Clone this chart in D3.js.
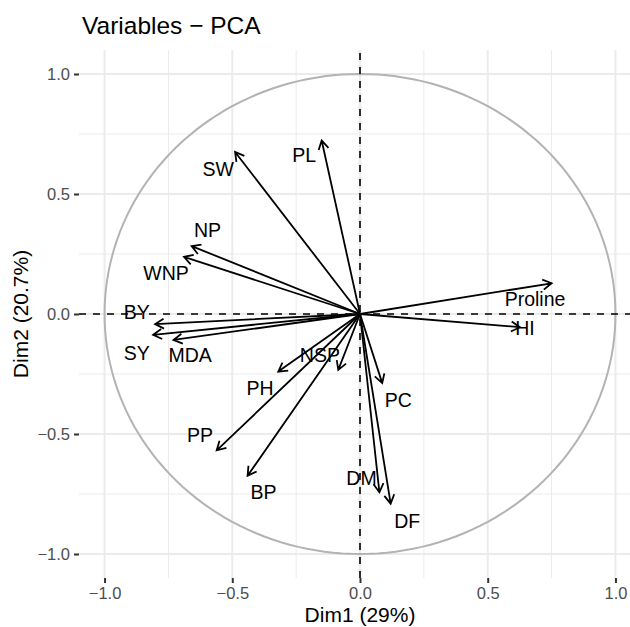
<!DOCTYPE html>
<html>
<head>
<meta charset="utf-8">
<script src="https://cdn.jsdelivr.net/npm/d3@7"></script>
<style>
  body { margin: 0; background: #fff; }
  svg { display: block; font-family: "Liberation Sans", Arial, sans-serif; }
</style>
</head>
<body>
<div id="chart"></div>
<script>
// variable coordinates on Dim1 / Dim2
const variables = ["PL", "SW", "NP", "WNP", "BY", "SY", "MDA", "NSP", "PH", "PP", "BP", "DM", "DF", "PC", "Proline", "HI"];
const dim1 = [-0.15, -0.489, -0.659, -0.689, -0.802, -0.81, -0.73, -0.085, -0.32, -0.561, -0.44, 0.076, 0.12, 0.087, 0.75, 0.626];
const dim2 = [0.723, 0.675, 0.283, 0.238, -0.042, -0.087, -0.108, -0.233, -0.24, -0.568, -0.674, -0.743, -0.79, -0.288, 0.128, -0.055];
// where the (repelled) labels ended up, in the same units
const labelDim1 = [-0.219, -0.555, -0.597, -0.759, -0.874, -0.874, -0.665, -0.157, -0.391, -0.626, -0.378, 0.006, 0.185, 0.150, 0.685, 0.646];
const labelDim2 = [0.661, 0.606, 0.349, 0.169, 0.009, -0.164, -0.170, -0.170, -0.309, -0.503, -0.743, -0.683, -0.864, -0.357, 0.061, -0.060];

const majorTicks = [-1.0, -0.5, 0.0, 0.5, 1.0];
const minorTicks = [-0.75, -0.25, 0.25, 0.75];

const width = 630;
const height = 627;
const margin = { top: 50, right: -11, bottom: 49, left: 79 };

const svg = d3.select("#chart").append("svg")
    .attr("width", width)
    .attr("height", height);

const x = d3.scaleLinear()
    .domain([-1.1, 1.1])
    .range([margin.left, width - margin.right]);

const y = d3.scaleLinear()
    .domain([-1.1, 1.1])
    .range([height - margin.bottom, margin.top]);

const gridColor = "#ebebeb";

// grid
const grid = svg.append("g");
grid.selectAll("line.minor-x")
    .data(minorTicks)
    .join("line")
    .attr("x1", d => x(d)).attr("x2", d => x(d))
    .attr("y1", y(-1.1)).attr("y2", y(1.1))
    .attr("stroke", gridColor).attr("stroke-width", 1);
grid.selectAll("line.minor-y")
    .data(minorTicks)
    .join("line")
    .attr("y1", d => y(d)).attr("y2", d => y(d))
    .attr("x1", x(-1.1)).attr("x2", x(1.1))
    .attr("stroke", gridColor).attr("stroke-width", 1);
grid.selectAll("line.major-x")
    .data(majorTicks)
    .join("line")
    .attr("x1", d => x(d)).attr("x2", d => x(d))
    .attr("y1", y(-1.1)).attr("y2", y(1.1))
    .attr("stroke", gridColor).attr("stroke-width", 2);
grid.selectAll("line.major-y")
    .data(majorTicks)
    .join("line")
    .attr("y1", d => y(d)).attr("y2", d => y(d))
    .attr("x1", x(-1.1)).attr("x2", x(1.1))
    .attr("stroke", gridColor).attr("stroke-width", 2);

// correlation circle
const circle = d3.range(0, 361, 2).map(a => [Math.cos(a * Math.PI / 180), Math.sin(a * Math.PI / 180)]);
svg.append("path")
    .datum(circle)
    .attr("d", d3.line().x(d => x(d[0])).y(d => y(d[1])))
    .attr("fill", "none")
    .attr("stroke", "#b3b3b3")
    .attr("stroke-width", 2);

// dashed axes through the origin
svg.append("line")
    .attr("x1", x(0)).attr("x2", x(0))
    .attr("y1", y(-1.1)).attr("y2", y(1.1))
    .attr("stroke", "#000").attr("stroke-width", 1.6)
    .attr("stroke-dasharray", "7,7");
svg.append("line")
    .attr("x1", x(-1.1)).attr("x2", x(1.1))
    .attr("y1", y(0)).attr("y2", y(0))
    .attr("stroke", "#000").attr("stroke-width", 1.6)
    .attr("stroke-dasharray", "7,7");

// arrows
const headLen = 10;
const headAngle = Math.PI / 6;
const arrowPath = i => {
    const x0 = x(0), y0 = y(0);
    const x1 = x(dim1[i]), y1 = y(dim2[i]);
    const ang = Math.atan2(y1 - y0, x1 - x0);
    const ax = x1 - headLen * Math.cos(ang - headAngle), ay = y1 - headLen * Math.sin(ang - headAngle);
    const bx = x1 - headLen * Math.cos(ang + headAngle), by = y1 - headLen * Math.sin(ang + headAngle);
    return `M${x0},${y0}L${x1},${y1}M${ax},${ay}L${x1},${y1}L${bx},${by}`;
};
svg.append("g")
    .selectAll("path")
    .data(d3.range(variables.length))
    .join("path")
    .attr("d", arrowPath)
    .attr("fill", "none")
    .attr("stroke", "#000")
    .attr("stroke-width", 1.8)
    .attr("stroke-linejoin", "miter");

// variable labels
svg.append("g")
    .selectAll("text")
    .data(d3.range(variables.length))
    .join("text")
    .attr("x", i => x(labelDim1[i]))
    .attr("y", i => y(labelDim2[i]))
    .attr("dy", "0.36em")
    .attr("text-anchor", "middle")
    .attr("font-size", 19.5)
    .attr("fill", "#000")
    .text(i => variables[i]);

// axes
const fmt = d3.format(".1f");
const xAxis = svg.append("g")
    .attr("transform", `translate(0, ${y(-1.1)})`)
    .call(d3.axisBottom(x).tickValues(majorTicks).tickFormat(d => fmt(d).replace("-", "\u2212")).tickSize(5).tickPadding(4));
const yAxis = svg.append("g")
    .attr("transform", `translate(${x(-1.1)}, 0)`)
    .call(d3.axisLeft(y).tickValues(majorTicks).tickFormat(d => fmt(d).replace("-", "\u2212")).tickSize(5).tickPadding(4));
[xAxis, yAxis].forEach(a => {
    a.select(".domain").remove();
    a.selectAll(".tick line").attr("stroke", "#333").attr("stroke-width", 2);
    a.selectAll(".tick text")
        .attr("fill", "#4d4d4d")
        .style("font-size", "16.5px")
        .style("font-family", "Liberation Sans, Arial, sans-serif");
});

// titles
svg.append("text")
    .attr("x", x(0))
    .attr("y", 622)
    .attr("text-anchor", "middle")
    .attr("font-size", 21)
    .text("Dim1 (29%)");

svg.append("text")
    .attr("transform", `translate(28, ${y(0)}) rotate(-90)`)
    .attr("text-anchor", "middle")
    .attr("font-size", 21)
    .text("Dim2 (20.7%)");

svg.append("text")
    .attr("x", margin.left + 3)
    .attr("y", 34)
    .attr("font-size", 24.5)
    .text("Variables \u2212 PCA");
</script>
</body>
</html>
